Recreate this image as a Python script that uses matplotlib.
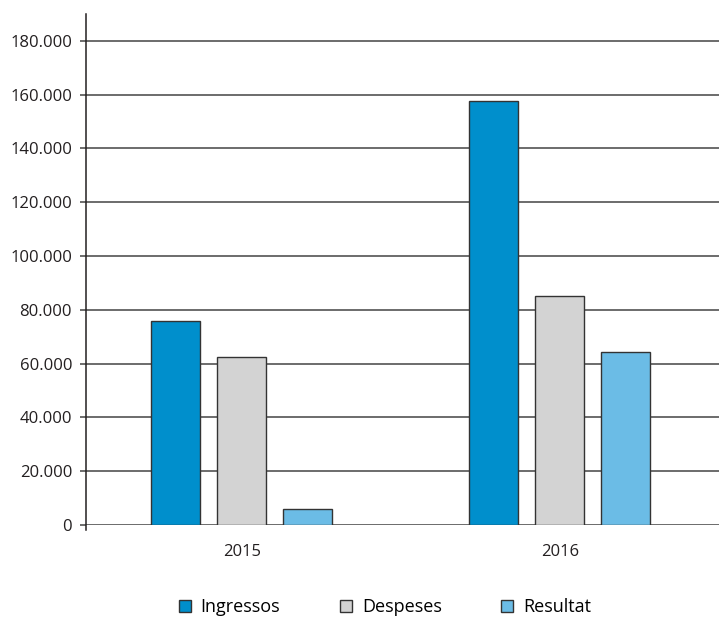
import numpy as np
import matplotlib.pyplot as plt
from matplotlib.patches import Patch

plt.rcParams['font.family'] = ['Open Sans', 'DejaVu Sans']

# values
years = ['2015', '2016']
series = ['Ingressos', 'Despeses', 'Resultat']
ingressos = [75800, 157800]
despeses = [62500, 85200]
resultat = [6000, 64300]
colors = ['#008fcc', '#d3d3d3', '#6bbce6']
yticks = list(range(0, 180001, 20000))
ytick_labels = ['0'] + ['{:,}'.format(v).replace(',', '.') for v in yticks[1:]]

fig = plt.figure(figsize=(7.19, 6.19), dpi=100)
ax = fig.add_axes([86 / 719, 94 / 619, 633 / 719, 511 / 619])

x = np.arange(len(years))
width = 0.154
offset = 0.2075
for i, vals in enumerate([ingressos, despeses, resultat]):
    ax.bar(x + (i - 1) * offset, vals, width, color=colors[i],
           edgecolor='#333333', linewidth=1.0, zorder=3)

ax.set_xlim(-0.49, 1.5)
ax.set_ylim(0, 190000)
ax.set_yticks(yticks)
ax.set_yticklabels(ytick_labels, fontsize=12, color='#231f20')
ax.set_xticks(x)
ax.set_xticklabels(years, fontsize=12, color='#231f20')
ax.tick_params(axis='x', length=0, pad=14)
ax.tick_params(axis='y', length=4, width=1.1, color='#444444', pad=6)

ax.grid(axis='y', color='#444444', linewidth=1.1, zorder=0)
for s in ['top', 'right', 'bottom']:
    ax.spines[s].set_visible(False)
ax.spines['left'].set_color('#231f20')
ax.spines['left'].set_linewidth(1.1)
ax.spines['left'].set_bounds(-2000, 190000)

handles = [Patch(facecolor=c, edgecolor='#333333', linewidth=1.0) for c in colors]
fig.legend(handles, series, loc='center', bbox_to_anchor=(385 / 719, 1 - 607 / 619),
           ncol=3, frameon=False, fontsize=13, handlelength=0.67, handleheight=0.67,
           handletextpad=0.55, columnspacing=3.3)

fig.savefig('out.png', dpi=100)
